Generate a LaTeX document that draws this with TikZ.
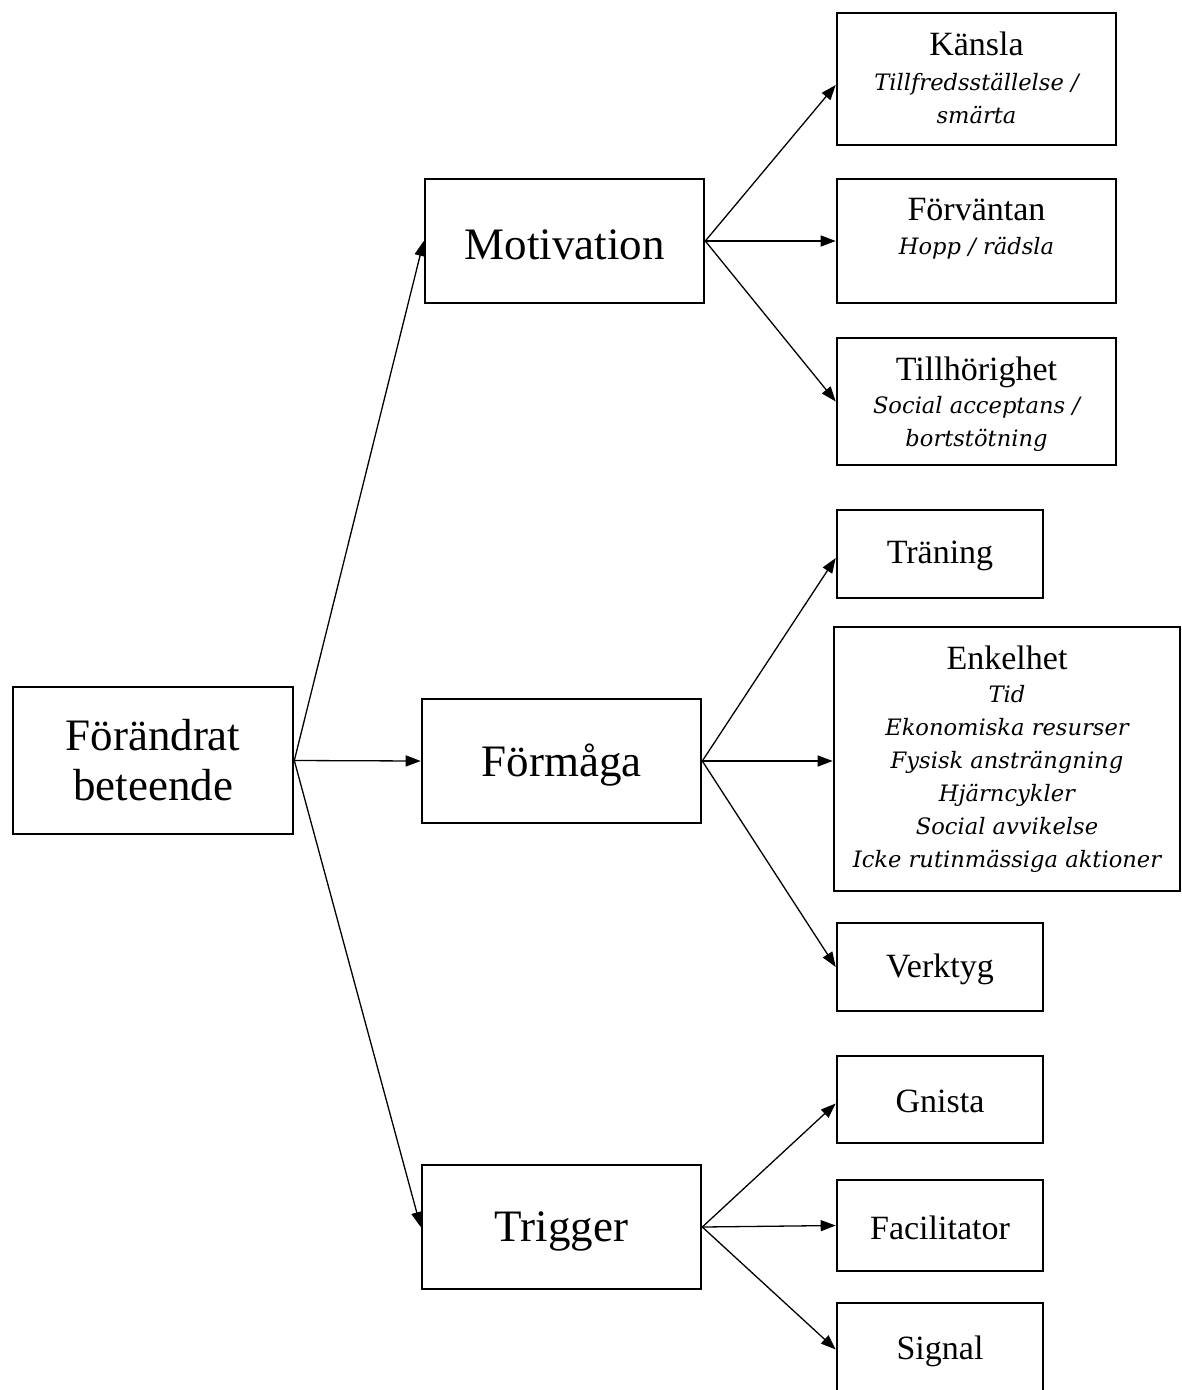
\documentclass[tikz,border=0pt]{standalone}
\usepackage{fontspec}
\setmainfont{Liberation Serif}
\newfontfamily\subfont{DejaVu Serif}
\usetikzlibrary{arrows.meta}
\newcommand{\bigtxt}{\fontsize{45}{50}\selectfont}
\newcommand{\midtxt}{\fontsize{34}{36}\selectfont}
\newcommand{\smalltxt}{\fontsize{22.6}{33}\subfont\itshape}
\newcommand{\lowr}[2]{\raisebox{-#1}[\height][\depth]{#2}}
\begin{document}
\begin{tikzpicture}[x=1pt,y=-1pt,
  box/.style={draw=black, line width=2.6pt, rectangle, inner sep=0pt, align=center},
  conn/.style={line width=1.3pt, -{Triangle[length=15pt,width=11pt]}},
  toptext/.style={label={[anchor=north, yshift=-20pt, align=center, inner sep=0pt, font=\smalltxt]north:{#1}}}
]
\useasboundingbox (0,0) rectangle (1182,1390);
% level 0
\node[box, minimum width=280pt, minimum height=147pt, font=\bigtxt] (fb) at (153,760.5) {Förändrat\\beteende};
% level 1
\node[box, minimum width=279pt, minimum height=124pt, font=\bigtxt] (mot) at (564.5,241) {\lowr{4pt}{Motivation}};
\node[box, minimum width=279pt, minimum height=124pt, font=\bigtxt] (form) at (561.5,761) {\lowr{4pt}{Förmåga}};
\node[box, minimum width=279pt, minimum height=124pt, font=\bigtxt] (trig) at (561.5,1227) {\lowr{4pt}{Trigger}};
% level 2
\node[box, minimum width=279pt, minimum height=132pt,
  toptext={{\midtxt\upshape\rmfamily Känsla}\\[2pt]Tillfredsställelse /\\smärta}] (kans) at (976.5,79) {};
\node[box, minimum width=279pt, minimum height=124pt,
  toptext={{\midtxt\upshape\rmfamily Förväntan}\\[1pt]Hopp / rädsla}] (forv) at (976.5,241) {};
\node[box, minimum width=279pt, minimum height=127pt,
  toptext={{\midtxt\upshape\rmfamily Tillhörighet}\\Social acceptans /\\bortstötning}] (till) at (976.5,401.5) {};
\node[box, minimum width=206pt, minimum height=88pt, font=\midtxt] (tran) at (940,554) {\lowr{2pt}{Träning}};
\node[box, minimum width=346pt, minimum height=264pt,
  toptext={{\midtxt\upshape\rmfamily Enkelhet}\\Tid\\Ekonomiska resurser\\Fysisk ansträngning\\Hjärncykler\\Social avvikelse\\Icke rutinmässiga aktioner}] (enk) at (1007,759) {};
\node[box, minimum width=206pt, minimum height=88pt, font=\midtxt] (verk) at (940,967) {\lowr{2pt}{Verktyg}};
\node[box, minimum width=206pt, minimum height=87pt, font=\midtxt] (gnis) at (940,1099.5) {\lowr{2pt}{Gnista}};
\node[box, minimum width=206pt, minimum height=91pt, font=\midtxt] (fac) at (940,1225.5) {\lowr{2pt}{Facilitator}};
\node[box, minimum width=206pt, minimum height=89pt, font=\midtxt] (sig) at (940,1347.5) {\lowr{4pt}{Signal}};
% connectors
\draw[conn] (fb.east) -- (mot.west);
\draw[conn] (fb.east) -- (form.west);
\draw[conn] (fb.east) -- (trig.west);
\draw[conn] (mot.east) -- ([yshift=-6pt]kans.west);
\draw[conn] (mot.east) -- (forv.west);
\draw[conn] (mot.east) -- (till.west);
\draw[conn] (form.east) -- ([yshift=-4pt]tran.west);
\draw[conn] (form.east) -- ([yshift=-2pt]enk.west);
\draw[conn] (form.east) -- (verk.west);
\draw[conn] (trig.east) -- ([yshift=-4pt]gnis.west);
\draw[conn] (trig.east) -- (fac.west);
\draw[conn] (trig.east) -- ([yshift=-2pt]sig.west);
\end{tikzpicture}
\end{document}
